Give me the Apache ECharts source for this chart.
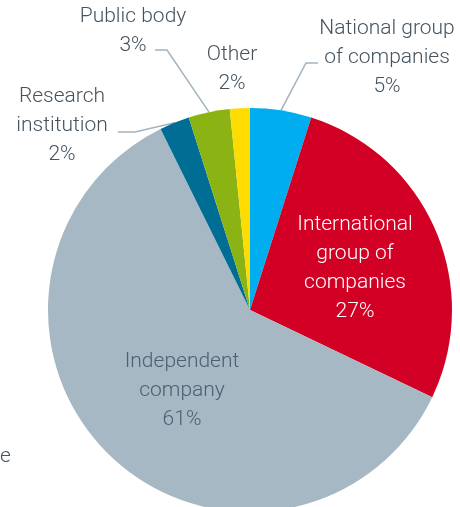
<!DOCTYPE html>
<html>
<head>
<meta charset="utf-8">
<script src="https://cdn.jsdelivr.net/npm/echarts@6/dist/echarts.min.js"></script>
<style>
html, body { margin: 0; padding: 0; background: #fff; }
#chart { width: 460px; height: 507px; }
</style>
</head>
<body>
<div id="chart"></div>
<script>
// clockwise from 12 o'clock
const categories = ['National group\nof companies', 'International\ngroup of\ncompanies', 'Independent\ncompany', 'Research\ninstitution', 'Public body', 'Other'];
const shares = [4.9, 27.2, 60.6, 2.4, 3.3, 1.6];
const colors = ['#00aeef', '#d10024', '#a6b8c3', '#006e94', '#8cb314', '#ffdc00'];
const insideLabel = [false, true, true, false, false, false];

// label block: centre x, top y ; guide line end/elbow as offsets from that
const labelPos = [
    { x: 387, y: 14, end: [-69, 49], elbow: [-81, 49] },
    { x: 355, y: 210 },
    { x: 182, y: 347 },
    { x: 62, y: 82, end: [56, 50], elbow: [73, 50] },
    { x: 133, y: 2, end: [22, 48], elbow: [34, 48] },
    { x: 232, y: 40 }
];

const textColor = '#44535e';

const chart = echarts.init(document.getElementById('chart'), null, { renderer: 'canvas' });

const data = categories.map((name, i) => {
    const item = {
        name: name,
        value: shares[i],
        itemStyle: { color: colors[i] }
    };
    if (insideLabel[i]) {
        item.label = { position: 'inside', color: i === 1 ? '#ffffff' : '#4b6070' };
    }
    if (!labelPos[i].end) {
        item.labelLine = { show: false };
    }
    return item;
});

const option = {
    animation: false,
    backgroundColor: '#ffffff',
    graphic: [{
        type: 'text',
        left: 0,
        top: 446,
        style: { text: 'e', fill: textColor, font: '300 21px Roboto' }
    }],
    series: [{
        type: 'pie',
        center: [250, 310],
        radius: 202,
        startAngle: 90,
        clockwise: true,
        avoidLabelOverlap: false,
        data: data,
        itemStyle: { borderWidth: 0 },
        label: {
            show: true,
            position: 'outside',
            fontFamily: 'Roboto',
            fontWeight: 300,
            fontSize: 21,
            lineHeight: 29,
            color: textColor,
            align: 'center',
            formatter: p => p.name + '\n' + Math.round(p.value) + '%'
        },
        labelLine: {
            show: true,
            length: 20,
            length2: 12,
            lineStyle: { color: '#a2b4bf', width: 1.5 }
        },
        labelLayout: function (params) {
            const pos = labelPos[params.dataIndex];
            const out = { x: pos.x, y: pos.y, align: 'center', verticalAlign: 'top' };
            if (pos.end && params.labelLinePoints) {
                const anchor = params.labelLinePoints[0];
                out.labelLinePoints = [
                    anchor,
                    [pos.x + pos.elbow[0], pos.y + pos.elbow[1]],
                    [pos.x + pos.end[0], pos.y + pos.end[1]]
                ];
            }
            return out;
        }
    }]
};

chart.setOption(option);
</script>
</body>
</html>
